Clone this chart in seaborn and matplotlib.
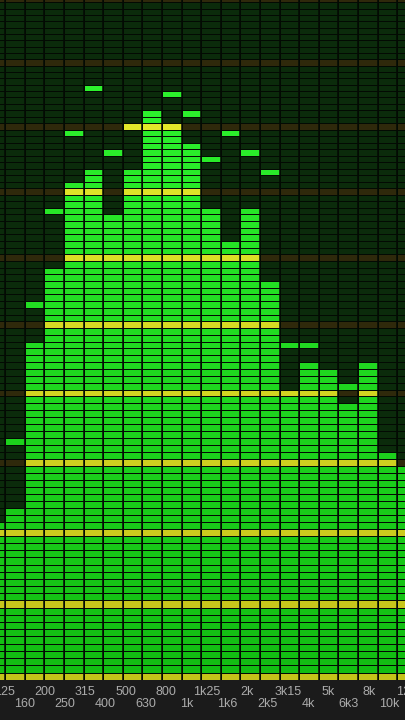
import numpy as np
import matplotlib
matplotlib.use('Agg')
import matplotlib.pyplot as plt
import seaborn as sns
from matplotlib.colors import ListedColormap, to_rgb

plt.rcParams['font.family'] = ['Liberation Sans', 'DejaVu Sans']

# -------------------------
# Data: 1/3 octave bands, lit segments and peak-hold segment per band
# -------------------------
bands = ['100', '125', '160', '200', '250', '315', '400', '500', '630', '800', '1k',
         '1k25', '1k6', '2k', '2k5', '3k15', '4k', '5k', '6k3', '8k', '10k', '12k5']
levels = [22, 24, 48, 59, 72, 74, 67, 74, 83, 81, 78,
          68, 63, 68, 57, 41, 45, 44, 39, 45, 32, 30]
peaks = [21, 33, 53, 67, 79, 86, 76, 80, 82, 85, 82,
         75, 79, 76, 73, 47, 47, 43, 41, 44, 31, 29]

n_seg = 101          # segments per column, every 10th one is a yellow marker row
mark_every = 10

# -------------------------
# Build the segment matrix (row k = segment k from the bottom)
# value = k for unlit segment, n_seg + k for lit one
# -------------------------
grid = np.zeros((n_seg, len(bands)), dtype=int)
for i, (lv, pk) in enumerate(zip(levels, peaks)):
    for k in range(n_seg):
        lit = k < lv or k == pk
        grid[k, i] = k + (n_seg if lit else 0)


def mix(c1, c2, t):
    return tuple(np.array(to_rgb(c1)) * (1 - t) + np.array(to_rgb(c2)) * t)


off_cols = ['#2f290b' if k % mark_every == 0 else '#0b2b0b' for k in range(n_seg)]
on_cols = [mix('#c4c21a', '#e6ec2c', min(k / 90, 1)) if k % mark_every == 0
           else mix('#12bc12', '#2ef52e', min(k / 90, 1)) for k in range(n_seg)]
cmap = ListedColormap(off_cols + on_cols)


# slight perspective: segments get a bit shorter towards the top
def fwd(v):
    return 7.3 * v - 0.00525 * v ** 2


def inv(p):
    d = np.clip(7.3 ** 2 - 4 * 0.00525 * np.asarray(p, dtype=float), 0, None)
    return (7.3 - np.sqrt(d)) / (2 * 0.00525)


# -------------------------
# Figure
# -------------------------
fig = plt.figure(figsize=(4.05, 7.2), dpi=100)
fig.patch.set_facecolor('#1b1b1b')

ax = fig.add_axes([0, 40 / 720, 1, 680 / 720])
sns.heatmap(grid, ax=ax, cmap=cmap, vmin=-0.5, vmax=2 * n_seg - 0.5, cbar=False,
            linewidths=0.45, linecolor='#030a03',
            xticklabels=False, yticklabels=False)
ax.set_yscale('function', functions=(fwd, inv))
ax.set_ylim(0, 100.4)
ax.set_xlim(0.735, 21.4)
# wider dark gaps between the columns
for xb in range(len(bands) + 1):
    ax.axvline(xb, color='#030a03', lw=1.1)
ax.tick_params(left=False, bottom=False, labelleft=False, labelbottom=False)
for s in ax.spines.values():
    s.set_visible(False)

# label strip, labels staggered on two rows
lab = fig.add_axes([0, 0, 1, 40 / 720])
lab.set_facecolor('#1b1b1b')
x0 = 1 - 4.25 / 20.25
lab.set_xlim(x0, x0 + 405 / 20.25)
lab.set_ylim(0, 1)
lab.axis('off')
for i, name in enumerate(bands):
    if i < x0 - 0.5:
        continue  # band left of the visible strip
    yy = 0.70 if i % 2 == 1 else 0.40
    lab.text(i, yy, name, ha='center', va='center', fontsize=9,
             color='#ababab', clip_on=True)

fig.savefig('out.png', dpi=100, facecolor=fig.get_facecolor())
